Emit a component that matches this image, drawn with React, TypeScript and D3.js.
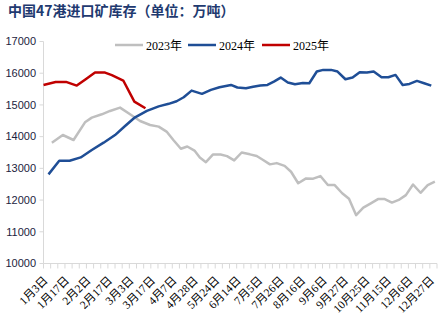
import React, { useEffect } from "react";
import * as d3 from "d3";

// ---- data ----
const xLabels = [
  "1月3日", "1月17日", "2月2日", "2月17日", "3月3日", "3月17日", "4月7日",
  "4月28日", "5月24日", "6月14日", "7月5日", "7月26日", "8月16日", "9月6日",
  "9月27日", "10月25日", "11月15日", "12月6日", "12月27日",
];
const slotCount = 56; // category slots on the x axis, a label on every 3rd
const labelEvery = 3;
const yTickValues = [10000, 11000, 12000, 13000, 14000, 15000, 16000, 17000];

// position of each point in category-slot units
const pos2023 = [1.17, 2.7, 4.2, 5.8, 6.75, 8.15, 9.3, 10.7, 12.1, 13.5, 14.9, 16.1, 17.2, 18.15, 19.2, 20.1, 21.1, 21.85, 22.7, 23.7, 24.75, 25.65, 26.65, 27.7, 28.85, 29.8, 30.7, 31.65, 32.6, 33.7, 34.6, 35.6, 36.7, 37.7, 38.7, 39.75, 40.7, 41.75, 42.7, 43.7, 44.7, 45.75, 46.75, 47.7, 48.7, 49.65, 50.65, 51.65, 52.7, 53.7, 54.7];
const val2023 = [13810, 14052, 13894, 14452, 14600, 14705, 14810, 14915, 14705, 14494, 14368, 14316, 14160, 13894, 13620, 13690, 13560, 13340, 13195, 13440, 13435, 13385, 13250, 13500, 13442, 13388, 13265, 13126, 13165, 13080, 12894, 12530, 12684, 12676, 12757, 12473, 12473, 12215, 12040, 11525, 11760, 11895, 12030, 12030, 11920, 12005, 12157, 12490, 12230, 12473, 12578];

const pos2024 = [0.7, 2.2, 3.65, 5.2, 6.75, 8.4, 10, 11.4, 12.8, 14.45, 16.1, 17.5, 18.6, 19.6, 20.7, 22.15, 23.4, 24.6, 26.2, 27.1, 28.3, 29.3, 30.3, 31.3, 32.2, 33.15, 34.15, 35.15, 36.25, 37.15, 38.2, 39.1, 40.2, 41.1, 42.2, 43.2, 44.2, 45.2, 46.15, 47.25, 48.2, 49.2, 50.2, 51.15, 52.2, 53.2, 54.2];
const val2024 = [12810, 13240, 13240, 13345, 13580, 13810, 14050, 14335, 14610, 14810, 14955, 15035, 15115, 15242, 15452, 15350, 15473, 15558, 15631, 15550, 15526, 15570, 15610, 15631, 15737, 15863, 15705, 15652, 15690, 15684, 16053, 16105, 16105, 16053, 15810, 15863, 16031, 16021, 16053, 15874, 15874, 15947, 15631, 15663, 15758, 15684, 15610];

const pos2025 = [0, 1.7, 3.15, 4.65, 5.9, 7.2, 8.6, 9.55, 11.15, 12.7, 14.25];
const val2025 = [15630, 15725, 15725, 15610, 15810, 16020, 16020, 15940, 15770, 15105, 14895];

const seriesNames = ["2023年", "2024年", "2025年"];
const seriesColors = ["#BFBFBF", "#1F4E96", "#C00000"];

const title = "中国47港进口矿库存（单位：万吨）";

export default function App() {
  useEffect(() => {
    document.body.style.margin = "0";
  }, []);

  const W = 446;
  const H = 323;
  const x = d3.scaleLinear().domain([0, slotCount - 1]).range([43.5, 437]);
  const y = d3.scaleLinear().domain([10000, 17000]).range([263.5, 41.5]);

  const line = d3
    .line<[number, number]>()
    .x((d) => x(d[0]))
    .y((d) => y(d[1]));

  const series = [
    d3.zip(pos2023, val2023) as [number, number][],
    d3.zip(pos2024, val2024) as [number, number][],
    d3.zip(pos2025, val2025) as [number, number][],
  ];

  const axisColor = "#D9D9D9";
  const labelFont = "'Liberation Serif', 'Noto Sans CJK SC', serif";
  const legendX = [115, 188, 262];

  return (
    <svg width={W} height={H} style={{ display: "block", background: "#fff" }}>
      <text
        x={8}
        y={16}
        fontFamily="'Noto Sans CJK SC', sans-serif"
        fontWeight="bold"
        fontSize={14}
        fill="#1F3A70"
      >
        {title}
      </text>

      {/* legend */}
      {seriesNames.map((name, i) => (
        <g key={name}>
          <line
            x1={legendX[i]}
            x2={legendX[i] + 28}
            y1={45}
            y2={45}
            stroke={seriesColors[i]}
            strokeWidth={2.5}
          />
          <text x={legendX[i] + 31} y={49.5} fontFamily={labelFont} fontSize={12} fill="#000">
            {name}
          </text>
        </g>
      ))}

      {/* y axis */}
      <line x1={x(0)} x2={x(0)} y1={y(17000)} y2={y(10000)} stroke={axisColor} strokeWidth={1} />
      {yTickValues.map((v) => (
        <g key={v}>
          <line x1={x(0) - 4} x2={x(0)} y1={y(v)} y2={y(v)} stroke={axisColor} />
          <text
            x={36}
            y={y(v)}
            dy="0.35em"
            textAnchor="end"
            fontFamily="'Liberation Sans', Arial, sans-serif"
            fontSize={11}
            fill="#1C2340"
          >
            {v}
          </text>
        </g>
      ))}

      {/* x axis */}
      <line x1={x(0)} x2={x(slotCount - 1)} y1={y(10000)} y2={y(10000)} stroke={axisColor} />
      {d3.range(slotCount).map((i) => (
        <line key={i} x1={x(i)} x2={x(i)} y1={y(10000)} y2={y(10000) + 5} stroke={axisColor} />
      ))}
      {xLabels.map((lab, k) => {
        const px = x(k * labelEvery);
        return (
          <text
            key={lab}
            transform={`translate(${px + 5},${281}) rotate(-45)`}
            textAnchor="end"
            fontFamily={labelFont}
            fontSize={11.5}
            fill="#000"
          >
            {lab}
          </text>
        );
      })}

      {/* series */}
      {series.map((d, i) => (
        <path
          key={i}
          d={line(d) || ""}
          fill="none"
          stroke={seriesColors[i]}
          strokeWidth={2.5}
          strokeLinejoin="round"
          strokeLinecap="butt"
        />
      ))}
    </svg>
  );
}
